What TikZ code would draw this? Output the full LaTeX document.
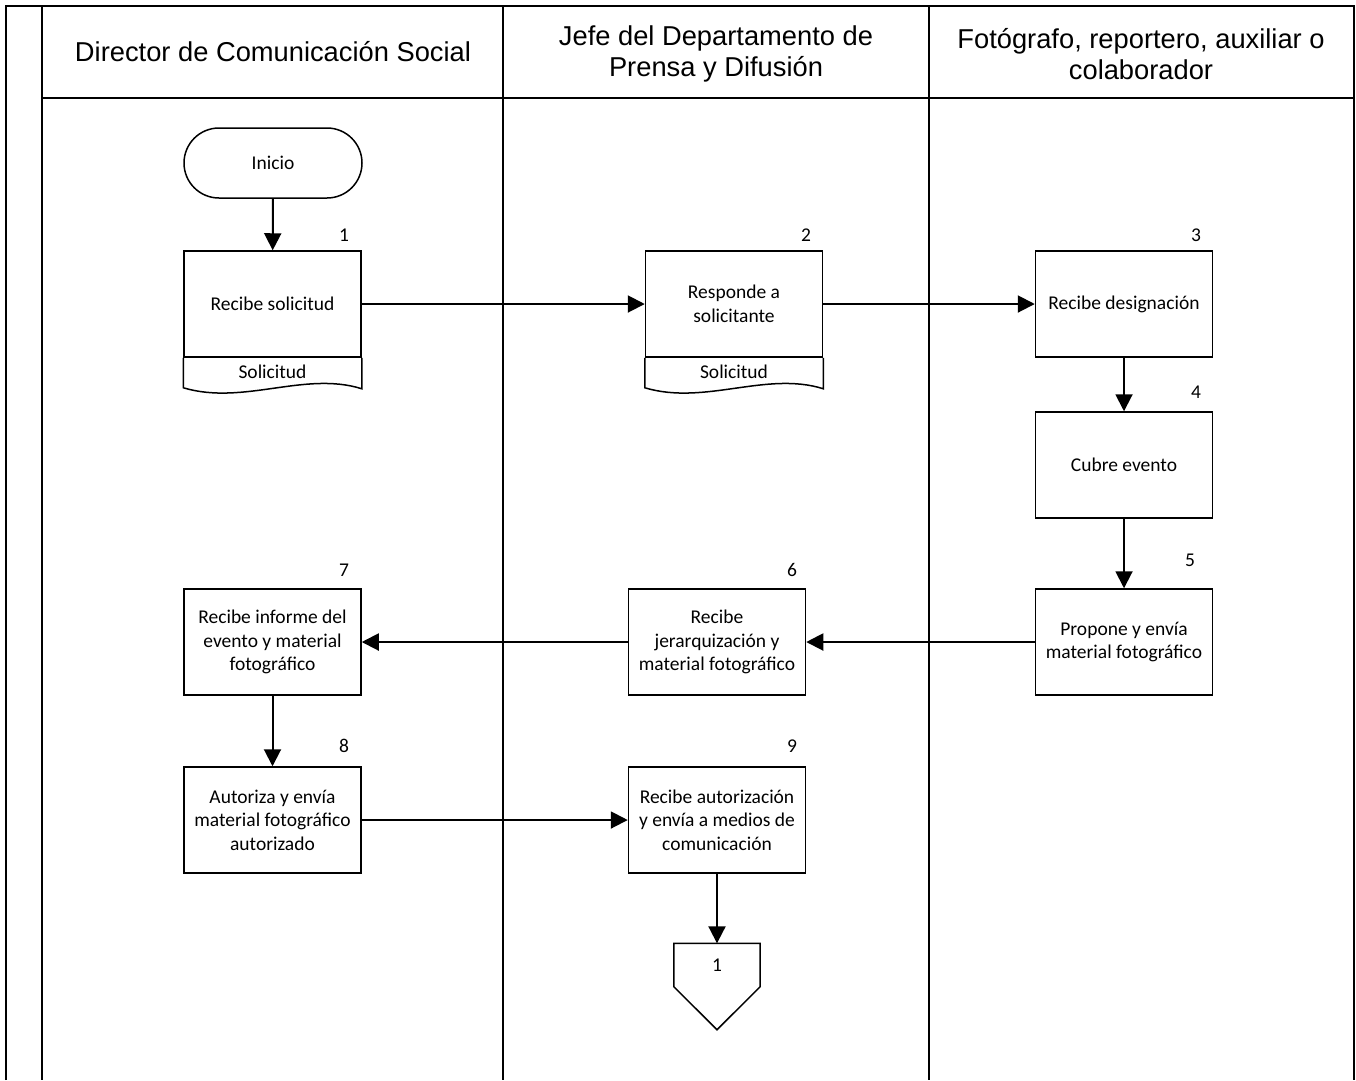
\documentclass[tikz,border=0pt]{standalone}
\usepackage{fontspec}
\setmainfont{Carlito}
\newfontfamily\headfont{Liberation Sans}
\usetikzlibrary{arrows.meta,calc}

\tikzset{
  lane/.style={line width=2pt},
  stepbox/.style={draw, line width=1.5pt, minimum width=177pt, minimum height=106pt,
    align=center, font=\fontsize{19.5}{23.5}\selectfont, inner sep=2pt},
  doclabel/.style={minimum width=177pt, minimum height=26pt, font=\fontsize{19.5}{23}\selectfont, inner sep=0pt},
  num/.style={font=\fontsize{19.5}{23}\selectfont, inner sep=0pt},
  head/.style={font=\headfont\fontsize{27.3}{30.5}\selectfont, align=center},
  flow/.style={line width=2pt, -{Triangle[length=17pt,width=17pt]}},
  terminal/.style={draw, line width=1.5pt, rounded corners=35pt, minimum width=178pt,
    minimum height=70pt, font=\fontsize{19.5}{23}\selectfont},
}

\begin{document}
\begin{tikzpicture}[x=1pt,y=-1pt]
\useasboundingbox (0,0) rectangle (1356,1080);

% pool frame and swimlanes
\draw[lane] (6,1080) -- (6,6) -- (1354,6) -- (1354,1080);
\draw[lane] (42,6) -- (42,1080);
\draw[lane] (42,98) -- (1354,98);
\draw[lane] (503,6) -- (503,1080);
\draw[lane] (929,6) -- (929,1080);

% lane headers
\node[head] (h1) at (273,52) {Director de Comunicación Social};
\node[head] (h2) at (716,54) {Jefe del Departamento de\\Prensa y Difusión};
\node[head] (h3) at (1141,54) {Fotógrafo, reportero, auxiliar o\\colaborador};

% start
\node[terminal] (ini) at (273,163) {Inicio};

% activities
\node[stepbox] (s1) at (272.5,304) {Recibe solicitud};
\node[stepbox] (s2) at (734,304) {Responde a\\solicitante};
\node[stepbox] (s3) at (1124,304) {Recibe designación};
\node[stepbox] (s4) at (1124,465) {Cubre evento};
\node[stepbox] (s5) at (1124,642) {Propone y envía\\material fotográfico};
\node[stepbox] (s6) at (717,642) {Recibe\\jerarquización y\\material fotográfico};
\node[stepbox] (s7) at (272.5,642) {Recibe informe del\\evento y material\\fotográfico};
\node[stepbox] (s8) at (272.5,820) {Autoriza y envía\\material fotográfico\\autorizado};
\node[stepbox] (s9) at (717,820) {Recibe autorización\\y envía a medios de\\comunicación};

% step numbers
\node[num] (n1) at (344,235) {1};
\node[num] (n2) at (806,235) {2};
\node[num] (n3) at (1196,235) {3};
\node[num] (n4) at (1196,392) {4};
\node[num] (n5) at (1190,560) {5};
\node[num] (n6) at (792,570) {6};
\node[num] (n7) at (344,570) {7};
\node[num] (n8) at (344,746) {8};
\node[num] (n9) at (792,746) {9};

% attached documents
\foreach \s/\d in {s1/d1, s2/d2}{
  \node[doclabel, anchor=north] (\d) at ($(\s.south)+(0,1)$) {Solicitud};
  \draw[line width=1.5pt] (\s.south west) -- ++(0,30)
    .. controls +(60,18) and +(-57,-18) .. ($(\s.south east)+(0,31)$) -- (\s.south east);
}

% off-page connector
\node[minimum width=86pt, minimum height=43pt, inner sep=0pt] (c1) at (717,965) {\fontsize{19.5}{23}\selectfont 1};
\draw[line width=1.5pt] (c1.south west) -- (c1.north west) -- (c1.north east) -- (c1.south east)
  -- ($(c1.south)+(0,43)$) -- cycle;

% flow
\draw[flow] (ini) -- (s1);
\draw[flow] (s1) -- (s2);
\draw[flow] (s2) -- (s3);
\draw[flow] (s3) -- (s4);
\draw[flow] (s4) -- (s5);
\draw[flow] (s5) -- (s6);
\draw[flow] (s6) -- (s7);
\draw[flow] (s7) -- (s8);
\draw[flow] (s8) -- (s9);
\draw[flow] (s9) -- (c1);
\end{tikzpicture}
\end{document}
